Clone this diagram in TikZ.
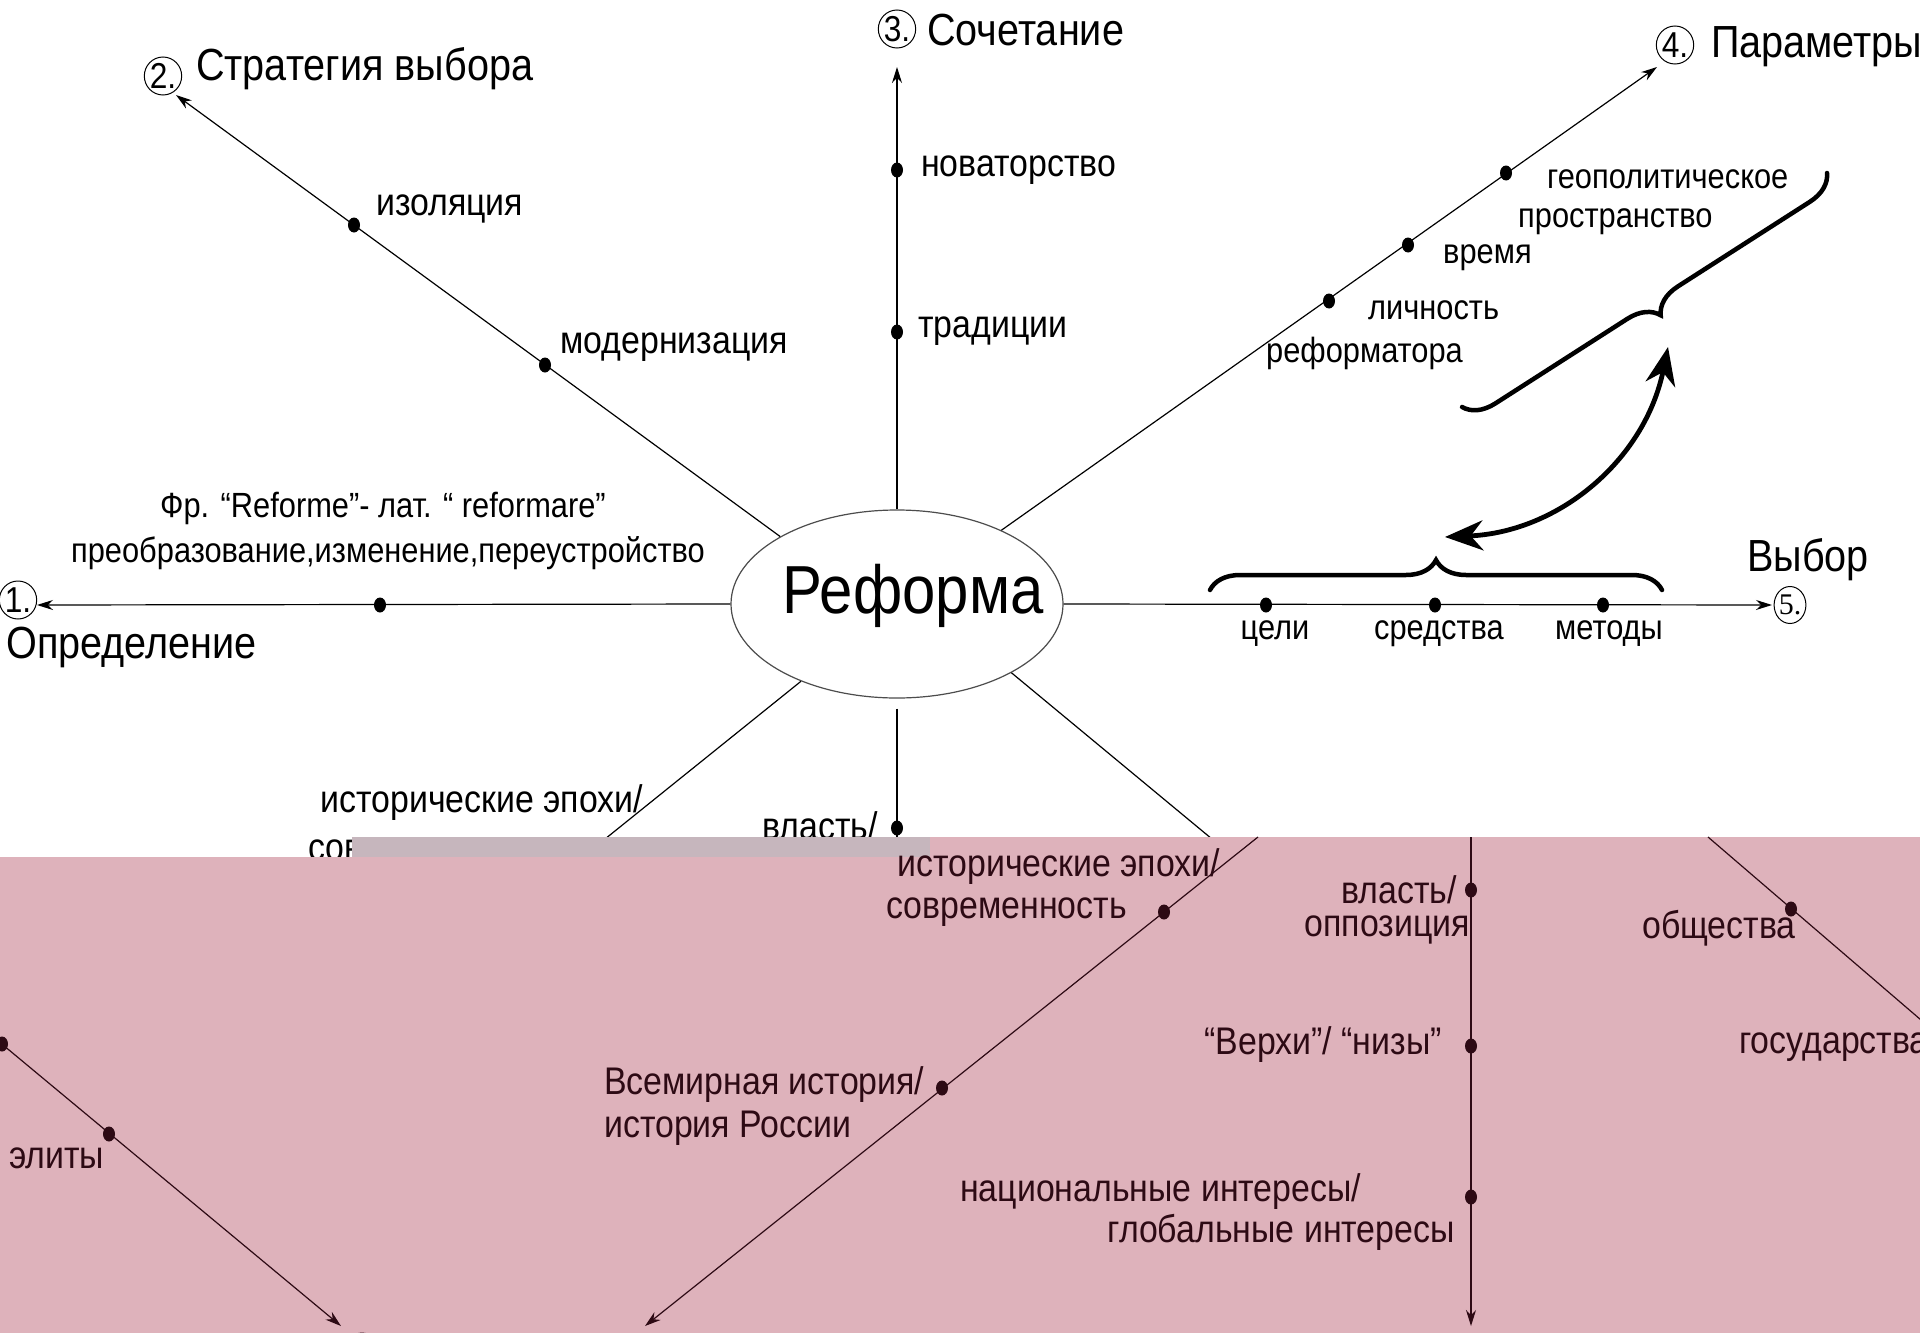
\documentclass[tikz,border=0pt]{standalone}
\usepackage{fontspec}
\setmainfont{Liberation Sans}[FakeStretch=0.88]
\newfontfamily\numserif{Liberation Serif}
\usetikzlibrary{shapes.geometric,arrows.meta,decorations.pathreplacing}
\definecolor{rosebg}{RGB}{222,178,187}
\definecolor{stripe}{RGB}{198,182,189}
\definecolor{ink}{RGB}{45,10,20}

\begin{document}
\begin{tikzpicture}
  [x=1pt,y=1pt,
   lbl/.style={font=\fontsize{38.5}{42}\selectfont,inner sep=0pt},
   lblsm/.style={font=\fontsize{35}{38}\selectfont,inner sep=0pt},
   head/.style={font=\fontsize{45}{48}\selectfont,inner sep=0pt},
   bead/.style={ellipse,fill,inner sep=0pt,minimum width=12pt,minimum height=15pt},
   num/.style={ellipse,draw,line width=1pt,inner sep=0pt,minimum width=32pt,minimum height=38pt,font=\fontsize{36}{38}\selectfont},
   ray/.style={line width=1.2pt,-{Stealth[length=16pt,width=10pt]}},
   brc/.style={decorate,decoration={brace,amplitude=30pt},line width=4.5pt,line cap=round}]

  \useasboundingbox (0,0) rectangle (1920,-1333);
  \fill[white] (0,0) rectangle (1920,-1333);

  \node[ellipse,draw=black!70,line width=1.2pt,minimum width=332pt,minimum height=188pt,inner sep=0pt] (ref) at (897,-604) {};
  \node[font=\fontsize{68}{72}\selectfont,inner sep=0pt] (reft) at (913,-596) {Реформа};

  % 1
  \node[num] (n1) at (18,-600) {1.};
  \node[head,anchor=west] (l1) at (6,-647) {Определение};
  \node[lblsm] (f1) at (383,-508) {Фр. “Reforme”- лат. “ reformare”};
  \node[lblsm] (f2) at (388,-553) {преобразование,изменение,переустройство};
  \coordinate (t1) at (37,-605);

  % 2
  \node[num] (n2) at (163,-76) {2.};
  \node[head,anchor=west] (l2) at (196,-69) {Стратегия выбора};
  \node[lbl,anchor=west] (l21) at (376,-209) {изоляция};
  \node[lbl,anchor=west] (l22) at (560,-347) {модернизация};
  \coordinate (t2) at (176,-95);

  % 3
  \node[num] (n3) at (897,-29) {3.};
  \node[head,anchor=west] (l3) at (927,-30) {Сочетание};
  \node[lbl,anchor=west] (l31) at (921,-170) {новаторство};
  \node[lbl,anchor=west] (l32) at (918,-331) {традиции};
  \coordinate (t3) at (897,-67);

  % 4
  \node[num] (n4) at (1675,-45) {4.};
  \node[head,anchor=west] (l4) at (1711,-47) {Параметры};
  \node[lblsm,anchor=west] (l41) at (1547,-179) {геополитическое};
  \node[lblsm,anchor=west] (l42) at (1518,-222) {пространство};
  \node[lblsm,anchor=west] (l43) at (1443,-258) {время};
  \node[lblsm,anchor=west] (l44) at (1368,-310) {личность};
  \node[lblsm,anchor=west] (l45) at (1266,-353) {реформатора};
  \coordinate (t4) at (1657,-67);

  % 5
  \node[num,minimum width=28pt,minimum height=37pt,font=\numserif\fontsize{30}{32}\selectfont] (n5) at (1790,-605) {5.};
  \node[head,anchor=west] (l5) at (1747,-560) {Выбор};
  \node[lblsm] (l51) at (1275,-634) {цели};
  \node[lblsm] (l52) at (1439,-634) {средства};
  \node[lblsm] (l53) at (1609,-634) {методы};
  \coordinate (t5) at (1772,-605);

  % lower half, white part
  \node[lbl,anchor=east] (l61) at (643,-803) {исторические эпохи/};
  \node[lbl,anchor=west] (l62) at (308,-854) {современность};
  \node[lbl,anchor=east] (l71) at (878,-826) {власть/};
  \coordinate (c6) at (605,-839);
  \coordinate (c7) at (897,-839);
  \coordinate (c8) at (1212,-839);

  \draw[ray] (ref.west) -- (t1);
  \draw[ray] (ref.150) -- (t2);
  \draw[ray] (ref.north) -- (t3);
  \draw[ray] (ref) -- (t4);
  \draw[ray] (ref.east) -- (t5);
  \draw[line width=1.2pt] (ref) -- (c6);
  \draw[line width=1.2pt,shorten <=10pt] (ref.south) -- (c7);
  \draw[line width=1.2pt] (ref.-31) -- (c8);

  \foreach \n/\x/\y in {d1/380/605, d21/354/225, d22/545/365, d31/897/170, d32/897/332,
                        d41/1506/173, d42/1408/245, d43/1329/301,
                        d51/1266/605, d52/1435/605, d53/1603/605, d7/897/828}
    \node[bead] (\n) at (\x,-\y) {};

  % braces and link
  \coordinate (b1) at (1210,-590);
  \coordinate (b2) at (1662,-590);
  \coordinate (b3) at (1827,-173);
  \coordinate (b4) at (1462,-407);
  \draw[brc] (b1) -- (b2);
  \draw[brc] (b3) -- (b4);
  \coordinate (lowtip) at (1445,-537);
  \coordinate (uptip) at (1668,-347);
  \draw[line width=4.8pt,{Stealth[length=38pt,width=30pt]}-{Stealth[length=38pt,width=30pt]}]
    (lowtip) to[bend right=38] (uptip);

  % band
  \fill[stripe] (352,-837) rectangle (930,-857);
  \fill[rosebg] (930,-837) rectangle (1920,-857);
  \fill[rosebg] (0,-857) rectangle (1920,-1333);

  % pink part
  \begin{scope}[color=ink]
  \node[lbl,anchor=east] (m11) at (1220,-867) {исторические эпохи/};
  \node[lbl,anchor=east] (m12) at (1127,-912) {современность};
  \node[lbl,anchor=west] (m13) at (604,-1085) {Всемирная история/};
  \node[lbl,anchor=west] (m14) at (604,-1128) {история России};
  \node[lbl,anchor=east] (m21) at (1457,-890) {власть/};
  \node[lbl,anchor=east] (m22) at (1470,-930) {оппозиция};
  \node[lbl,anchor=east] (m23) at (1442,-1045) {“Верхи”/ “низы”};
  \node[lbl,anchor=west] (m24) at (960,-1192) {национальные интересы/};
  \node[lbl,anchor=east] (m25) at (1455,-1232) {глобальные интересы};
  \node[lbl,anchor=west] (m31) at (1642,-928) {общества};
  \node[lbl,anchor=west] (m32) at (1739,-1047) {государства};
  \node[lbl,anchor=west] (m41) at (9,-1158) {элиты};
  \node[num] (m5) at (362,-1352) {};

  \coordinate (p1) at (1258,-837);
  \coordinate (p1t) at (645,-1326);
  \coordinate (p2) at (1471,-837);
  \coordinate (p2t) at (1471,-1326);
  \coordinate (p3) at (1708,-837);
  \coordinate (p3e) at (1935,-1032);
  \coordinate (p4) at (-3,-1040);
  \coordinate (p4t) at (341,-1326);

  \draw[ray] (p1) -- (p1t);
  \draw[ray] (p2) -- (p2t);
  \draw[line width=1.2pt] (p3) -- (p3e);
  \draw[ray] (p4) -- (p4t);

  \foreach \n/\x/\y in {e11/1164/912, e12/942/1088, e21/1471/890, e22/1471/1046, e23/1471/1197,
                        e31/1791/909, e41/2/1044, e42/109/1134}
    \node[bead] (\n) at (\x,-\y) {};
  \end{scope}

\end{tikzpicture}
\end{document}
